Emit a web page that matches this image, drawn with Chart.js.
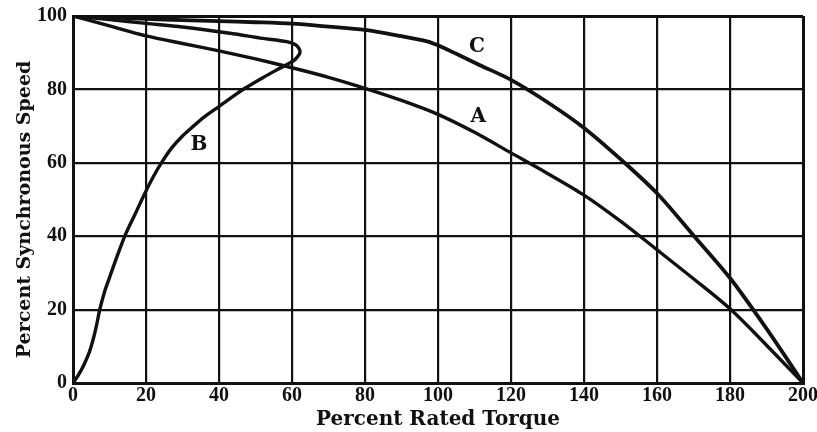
<!DOCTYPE html>
<html>
<head>
<meta charset="utf-8">
<script src="https://cdn.jsdelivr.net/npm/chart.js@4/dist/chart.umd.min.js"></script>
<style>
  html, body { margin: 0; padding: 0; background: #ffffff; }
  #wrap { width: 817px; height: 432px; }
</style>
</head>
<body>
<div id="wrap"><canvas id="chart" width="817" height="432"></canvas></div>
<script>
// Speed–torque curves: percent rated torque (x) vs percent synchronous speed (y)
const torqueA = [0, 10, 20, 30, 40, 50, 60, 70, 80, 90, 100, 110, 120, 130, 140, 150, 160, 170, 180, 190, 200];
const speedA  = [100, 97.3, 94.6, 92.5, 90.5, 88.3, 85.9, 83.3, 80.3, 77.0, 73.2, 68.3, 62.7, 57.1, 51.2, 44.1, 36.3, 28.4, 20.2, 10.3, 0];

const torqueC = [0, 10, 20, 30, 40, 50, 60, 70, 80, 90, 97, 100, 105, 111.5, 120, 130, 140, 150, 160, 170, 180, 190, 200];
const speedC  = [100, 99.6, 99.2, 98.9, 98.6, 98.3, 97.9, 97.1, 96.2, 94.5, 93.1, 92.0, 89.7, 86.6, 82.6, 76.5, 69.5, 61.0, 51.7, 40.2, 28.6, 14.8, 0];

// Curve B rises from standstill, loops near 60 % torque and returns to synchronous speed
const torqueB = [0, 1.5, 3, 4.5, 5.6, 6.5, 7.4, 8.7, 10.1, 12, 14.3, 17, 19.7, 22, 24.3, 27, 30, 33, 36, 39.8, 43.3, 47.1, 52, 56, 59, 61, 62.2, 61.2, 58.5, 52, 43, 30, 20, 10, 0];
const speedB  = [0, 2.2, 5, 8.5, 12.2, 16, 20.3, 25, 29, 34.3, 40.3, 46, 51.7, 56.2, 60.1, 64, 67.3, 70, 72.5, 75.2, 77.7, 80.3, 83.2, 85.4, 87, 88.3, 90.2, 92, 93, 93.9, 95.3, 97, 98, 99, 100];

const xTicks = [0, 20, 40, 60, 80, 100, 120, 140, 160, 180, 200];
const yTicks = [0, 20, 40, 60, 80, 100];

const curveLabels = ['A', 'B', 'C'];
const labelTorque = [111, 34.5, 110.7];
const labelSpeed  = [72.5, 64.8, 91.5];

const INK = '#111111';
const TICK_FONT = "'Liberation Serif', 'Times New Roman', serif";
const TITLE_FONT = "'DejaVu Serif', serif";

function pairs(xs, ys) { return xs.map((x, i) => ({ x: x, y: ys[i] })); }

// Writes the curve letters next to their lines
const curveLetters = {
  id: 'curveLetters',
  afterDatasetsDraw(chart) {
    const { ctx, scales } = chart;
    ctx.save();
    ctx.fillStyle = INK;
    ctx.font = "bold 20px " + TITLE_FONT;
    ctx.textAlign = 'center';
    ctx.textBaseline = 'middle';
    curveLabels.forEach((t, i) => {
      ctx.fillText(t, scales.x.getPixelForValue(labelTorque[i]), scales.y.getPixelForValue(labelSpeed[i]));
    });
    ctx.restore();
  }
};

const edgeWidth = (v, lo, hi) => (v === lo || v === hi ? 3 : 2.2);

new Chart(document.getElementById('chart'), {
  type: 'scatter',
  data: {
    datasets: [
      { label: 'A', data: pairs(torqueA, speedA), showLine: true, borderColor: INK, borderWidth: 3.4, pointRadius: 0, tension: 0.3, fill: false },
      { label: 'B', data: pairs(torqueB, speedB), showLine: true, borderColor: INK, borderWidth: 3.4, pointRadius: 0, tension: 0.3, fill: false },
      { label: 'C', data: pairs(torqueC, speedC), showLine: true, borderColor: INK, borderWidth: 3.8, pointRadius: 0, tension: 0.3, fill: false }
    ]
  },
  options: {
    responsive: false,
    animation: false,
    devicePixelRatio: 1,
    layout: { padding: { top: 16, right: 14, bottom: 0, left: 0 } },
    plugins: { legend: { display: false }, tooltip: { enabled: false } },
    scales: {
      x: {
        type: 'linear', min: 0, max: 200,
        afterBuildTicks(scale) { scale.ticks = xTicks.map(v => ({ value: v })); },
        afterFit(scale) { scale.height = 49; scale.paddingLeft = 0; scale.paddingRight = 0; },
        grid: { color: INK, lineWidth: c => edgeWidth(c.tick.value, 0, 200), drawTicks: false },
        border: { color: INK, width: 3 },
        ticks: { color: INK, padding: 2, font: { family: TICK_FONT, size: 20, weight: 'bold', lineHeight: 1.1 }, maxRotation: 0, autoSkip: false },
        title: { display: true, text: 'Percent Rated Torque', color: INK, padding: { top: 0, bottom: 0 }, font: { family: TITLE_FONT, size: 20, weight: 'bold' } }
      },
      y: {
        type: 'linear', min: 0, max: 100,
        afterBuildTicks(scale) { scale.ticks = yTicks.map(v => ({ value: v })); },
        afterFit(scale) { scale.width = 73; scale.paddingTop = 0; scale.paddingBottom = 0; },
        grid: { color: INK, lineWidth: c => edgeWidth(c.tick.value, 0, 100), drawTicks: false },
        border: { color: INK, width: 3 },
        ticks: { color: INK, padding: 6, font: { family: TICK_FONT, size: 20, weight: 'bold' } },
        title: { display: true, text: 'Percent Synchronous Speed   ', color: INK, padding: { top: 14, bottom: 0 }, font: { family: TITLE_FONT, size: 19, weight: 'bold' } }
      }
    }
  },
  plugins: [curveLetters]
});
</script>
</body>
</html>
